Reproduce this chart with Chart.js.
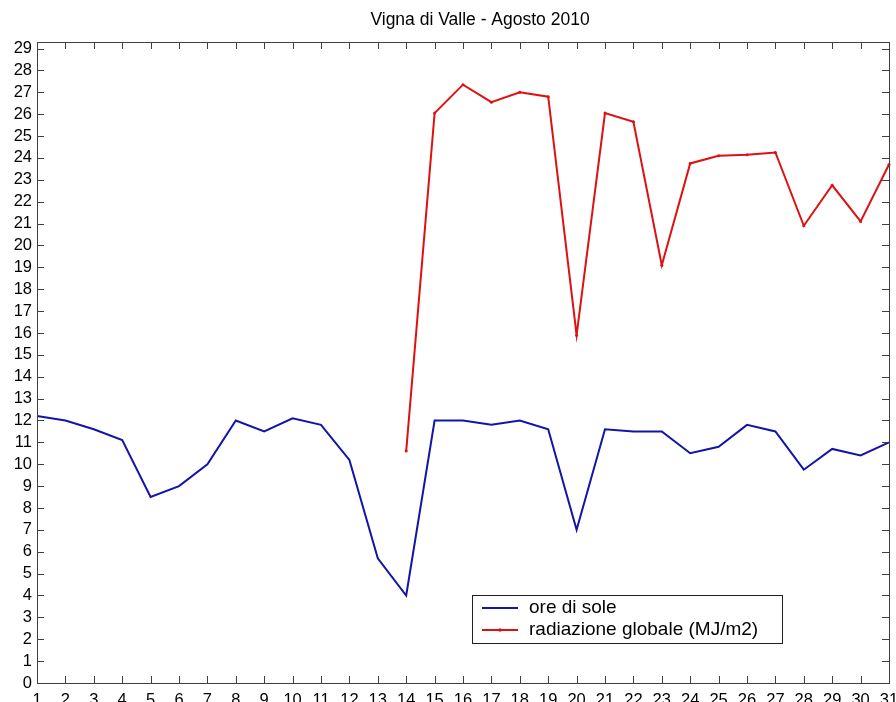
<!DOCTYPE html>
<html>
<head>
<meta charset="utf-8">
<script src="https://cdn.jsdelivr.net/npm/chart.js@4.4.0/dist/chart.umd.min.js"></script>
<style>
  html, body { margin: 0; padding: 0; background: #fff; }
  #wrap { width: 896px; height: 702px; }
</style>
</head>
<body>
<div id="wrap"><canvas id="chart"></canvas></div>
<script>
// giorni di agosto
const giorni = ["1","2","3","4","5","6","7","8","9","10","11","12","13","14","15","16",
  "17","18","19","20","21","22","23","24","25","26","27","28","29","30","31"];

// ore di sole
const oreSole = [12.2, 12.0, 11.6, 11.1, 8.5, 9.0, 10.0, 12.0, 11.5, 12.1, 11.8, 10.2, 5.7, 4.0,
  12.0, 12.0, 11.8, 12.0, 11.6, 7.0, 11.6, 11.5, 11.5, 10.5, 10.8, 11.8, 11.5, 9.75, 10.7, 10.4, 11.0];

// radiazione globale (MJ/m2), dati solo dal 14
const radiazione = [null, null, null, null, null, null, null, null, null, null, null, null, null, 10.6,
  26.05, 27.35, 26.55, 27.0, 26.8, 15.9, 26.05, 25.65, 19.1, 23.75, 24.1, 24.15, 24.25, 20.9, 22.75, 21.1, 23.7];

const titolo = "Vigna di Valle - Agosto 2010";

const FONT = "'Liberation Sans', Arial, sans-serif";
const AXIS_COLOR = "#404040";

// titolo + box + tacche verso l'interno (stile matlab) + legenda nel riquadro
const matlabAxes = {
  id: "matlabAxes",
  afterDraw(chart) {
    const ctx = chart.ctx;
    const a = chart.chartArea;
    const xs = chart.scales.x;
    const ys = chart.scales.y;
    const len = 7;
    ctx.save();

    // titolo (un po' spostato a destra come nell'originale)
    ctx.fillStyle = "#000";
    ctx.font = "17.5px " + FONT;
    ctx.textAlign = "center";
    ctx.textBaseline = "middle";
    ctx.fillText(titolo, 480, 20);
    ctx.textAlign = "left";

    ctx.strokeStyle = AXIS_COLOR;
    ctx.lineWidth = 1;
    ctx.beginPath();
    xs.ticks.forEach((t, i) => {
      const px = Math.round(xs.getPixelForTick(i)) + 0.5;
      ctx.moveTo(px, a.bottom);
      ctx.lineTo(px, a.bottom - len);
      ctx.moveTo(px, a.top);
      ctx.lineTo(px, a.top + len);
    });
    ys.ticks.forEach((t) => {
      const py = Math.round(ys.getPixelForValue(t.value)) + 0.5;
      ctx.moveTo(a.left, py);
      ctx.lineTo(a.left + len, py);
      ctx.moveTo(a.right, py);
      ctx.lineTo(a.right - len, py);
    });
    ctx.stroke();
    ctx.strokeRect(Math.round(a.left) + 0.5, Math.round(a.top) + 0.5,
      Math.round(a.right - a.left), Math.round(a.bottom - a.top));

    // legenda
    const box = { x: 472.5, y: 595.5, w: 310, h: 48 };
    ctx.fillStyle = "#fff";
    ctx.fillRect(box.x, box.y, box.w, box.h);
    ctx.strokeStyle = "#202020";
    ctx.strokeRect(box.x, box.y, box.w, box.h);
    ctx.font = "19px " + FONT;
    ctx.textBaseline = "middle";
    const rows = [608, 630];
    chart.data.datasets.forEach((ds, i) => {
      const y = rows[i];
      ctx.strokeStyle = ds.borderColor;
      ctx.lineWidth = 2;
      ctx.beginPath();
      ctx.moveTo(482, y);
      ctx.lineTo(518, y);
      ctx.stroke();
      if (ds.pointRadius > 0) {
        ctx.fillStyle = ds.borderColor;
        ctx.beginPath();
        ctx.arc(500, y, 1.8, 0, Math.PI * 2);
        ctx.fill();
      }
      ctx.fillStyle = "#000";
      ctx.fillText(ds.label, 529, y);
    });
    ctx.restore();
  }
};

new Chart(document.getElementById("chart"), {
  type: "line",
  data: {
    labels: giorni,
    datasets: [
      {
        label: "ore di sole",
        data: oreSole,
        borderColor: "#1414a8",
        borderWidth: 2,
        pointRadius: 0,
        tension: 0,
      },
      {
        label: "radiazione globale (MJ/m2)",
        data: radiazione,
        borderColor: "#dd1111",
        backgroundColor: "#dd1111",
        borderWidth: 2,
        pointRadius: 1.5,
        pointBorderWidth: 0,
        tension: 0,
        spanGaps: false,
      },
    ],
  },
  options: {
    responsive: true,
    maintainAspectRatio: false,
    animation: false,
    layout: { padding: { left: 0, right: 7, top: 42, bottom: 0 } },
    plugins: {
      legend: { display: false },
      tooltip: { enabled: false },
      title: { display: false },
    },
    scales: {
      x: {
        type: "category",
        offset: false,
        grid: { display: false, drawTicks: false },
        border: { display: false },
        ticks: {
          color: "#000",
          font: { family: FONT, size: 16.5 },
          padding: 8,
          maxRotation: 0,
          autoSkip: false,
        },
        afterFit(scale) {
          scale.height = 19;
          scale.paddingLeft = 0;
          scale.paddingRight = 0;
        },
      },
      y: {
        type: "linear",
        bounds: "data",
        min: 0,
        max: 29.3,
        grid: { display: false, drawTicks: false },
        border: { display: false },
        ticks: {
          stepSize: 1,
          includeBounds: false,
          autoSkip: false,
          color: "#000",
          font: { family: FONT, size: 16.5 },
          padding: 5,
        },
        afterFit(scale) {
          scale.width = 37;
          scale.paddingTop = 0;
          scale.paddingBottom = 0;
        },
      },
    },
  },
  plugins: [matlabAxes],
});
</script>
</body>
</html>
